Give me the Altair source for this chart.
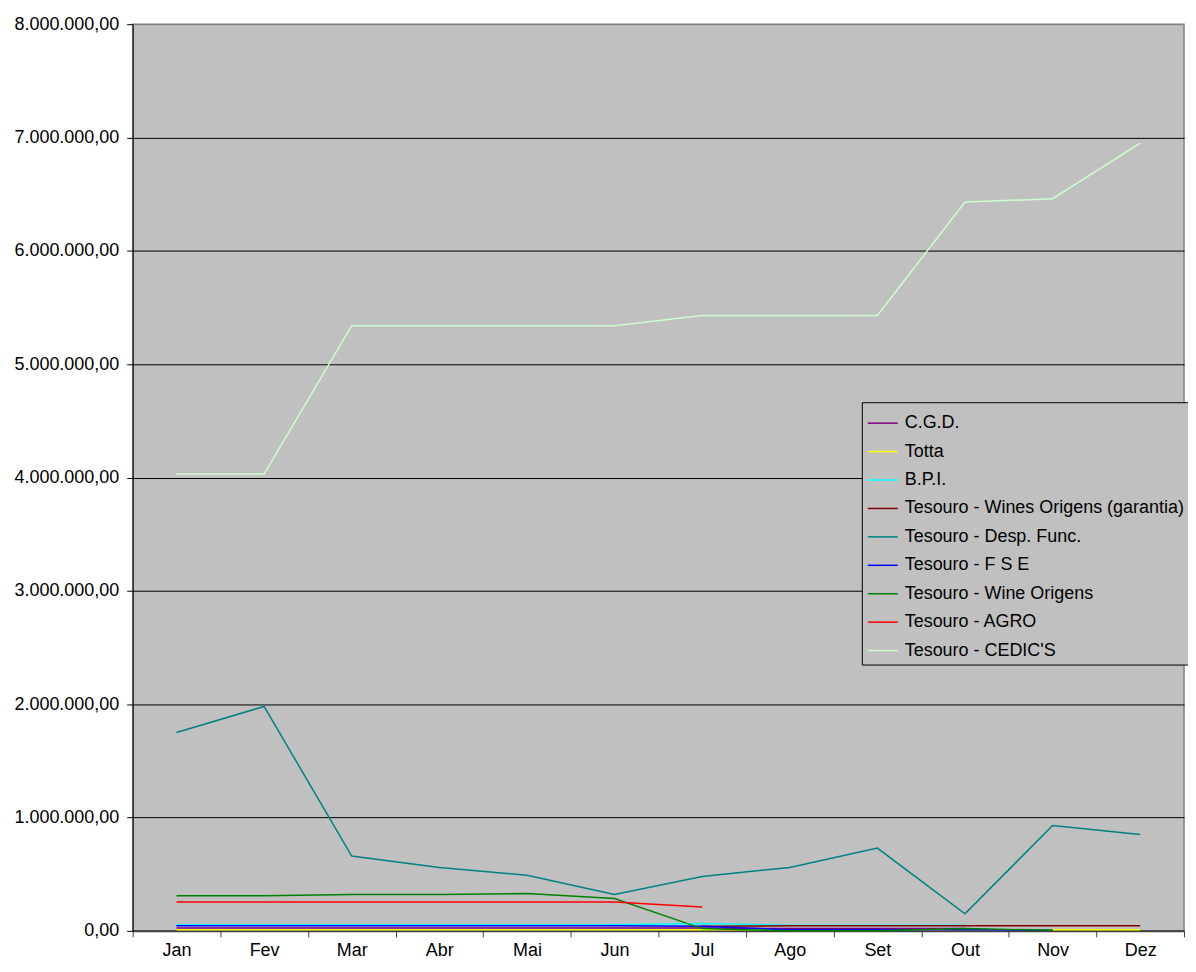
import altair as alt
import pandas as pd

months = ["Jan", "Fev", "Mar", "Abr", "Mai", "Jun", "Jul", "Ago", "Set", "Out", "Nov", "Dez"]

series_names = [
    "C.G.D.",
    "Totta",
    "B.P.I.",
    "Tesouro - Wines Origens (garantia)",
    "Tesouro - Desp. Func.",
    "Tesouro - F S E",
    "Tesouro - Wine Origens",
    "Tesouro - AGRO",
    "Tesouro - CEDIC'S",
]
series_colors = ["#800080", "#ffff00", "#00ffff", "#800000", "#008080",
                 "#0000ff", "#008000", "#ff0000", "#ccffcc"]

cgd = [25000, 25000, 25000, 25000, 25000, 25000, 25000, 20000, 20000, 20000, None, None]
totta = [10000, 10000, 10000, 10000, 10000, 10000, 10000, 10000, 10000, 10000, 10000, 10000]
bpi = [55000, 55000, 55000, 55000, 55000, 55000, 65000, 50000, 50000, 50000, None, None]
garantia = [None, None, None, None, None, None, 40000, 45000, 45000, 45000, 45000, 45000]
desp = [1750000, 1980000, 660000, 560000, 490000, 320000, 480000, 560000, 730000, 150000, 930000, 850000]
fse = [45000, 45000, 45000, 45000, 45000, 45000, 40000, 10000, 10000, 10000, 5000, None]
wine = [310000, 310000, 320000, 320000, 330000, 285000, 20000, 0, 0, 20000, 5000, None]
agro = [255000, 255000, 255000, 255000, 255000, 255000, 210000, None, None, None, None, None]
cedics = [4030000, 4030000, 5340000, 5340000, 5340000, 5340000, 5430000, 5430000, 5430000, 6430000, 6460000, 6950000]

all_values = [cgd, totta, bpi, garantia, desp, fse, wine, agro, cedics]

rows = []
for order, (name, vals) in enumerate(zip(series_names, all_values)):
    for m, v in zip(months, vals):
        if v is not None:
            rows.append({"Mes": m, "Serie": name, "Valor": v, "ordem": order})
df = pd.DataFrame(rows)

fmt_expr = ("replace(replace(replace(format(datum.value, ',.2f'), regexp(',', 'g'), '#'),"
            " regexp('\\\\.', 'g'), ','), regexp('#', 'g'), '.')")

chart = alt.Chart(df).mark_line(strokeWidth=1.5).encode(
    x=alt.X("Mes:N", sort=months, title=None,
            scale=alt.Scale(paddingInner=0, paddingOuter=0),
            axis=alt.Axis(tickBand="extent", labelAngle=0, labelFont="Liberation Sans",
                          labelFontSize=18, labelColor="black", labelPadding=5,
                          tickSize=6, tickColor="#404040", domainColor="#404040",
                          domainWidth=2, grid=False)),
    y=alt.Y("Valor:Q", title=None,
            scale=alt.Scale(domain=[0, 8000000], nice=False),
            axis=alt.Axis(values=[0, 1000000, 2000000, 3000000, 4000000, 5000000,
                                  6000000, 7000000, 8000000],
                          labelExpr=fmt_expr, labelFont="Liberation Sans",
                          labelFontSize=18, labelColor="black", labelPadding=8,
                          tickSize=6, tickColor="black", domainColor="black",
                          grid=True,
                          gridColor={"condition": {"test": "datum.value >= 8000000",
                                                   "value": "#808080"},
                                     "value": "black"},
                          gridWidth=1)),
    color=alt.Color("Serie:N",
                    scale=alt.Scale(domain=series_names, range=series_colors),
                    sort=series_names,
                    legend=alt.Legend(title=None, orient="none", legendX=731, legendY=379,
                                      fillColor="#c0c0c0", strokeColor="black",
                                      padding=5, symbolType="stroke", symbolSize=900,
                                      symbolStrokeWidth=1.5, labelFont="Liberation Sans",
                                      labelFontSize=18, labelColor="black",
                                      labelOffset=6, rowPadding=3.5, labelLimit=400)),
    order=alt.Order("ordem:Q"),
).properties(
    width=1054,
    height=909,
    background="white",
    autosize=alt.AutoSizeParams(type="none"),
    padding={"left": 125, "top": 15, "right": 4, "bottom": 28},
).configure_view(
    fill="#c0c0c0", stroke="#808080", strokeWidth=1.5
)

chart.save("out.html", embed_options={"renderer": "svg", "actions": False})
